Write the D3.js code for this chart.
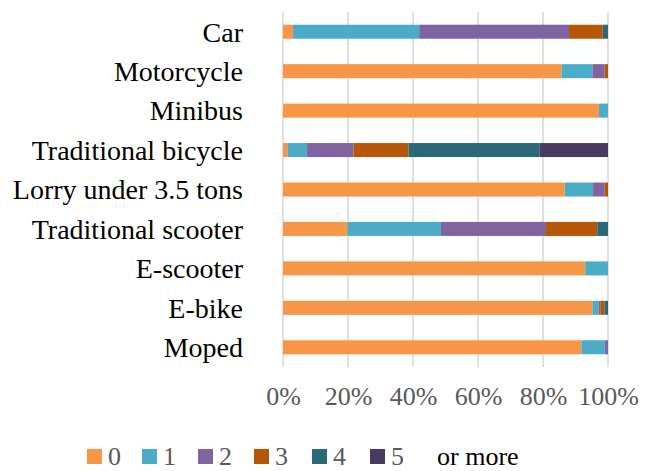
<!DOCTYPE html>
<html>
<head>
<meta charset="utf-8">
<script src="https://cdn.jsdelivr.net/npm/d3@7"></script>
<style>
  html, body { margin: 0; padding: 0; background: #fff; }
  svg { display: block; }
</style>
</head>
<body>
<svg id="chart" width="652" height="471"></svg>
<script>
// Vehicle types, top to bottom
const categories = [
  "Car", "Motorcycle", "Minibus", "Traditional bicycle",
  "Lorry under 3.5 tons", "Traditional scooter", "E-scooter", "E-bike", "Moped"
];
// Share of respondents (%) per number of vehicles owned
const series0 = [3.1, 85.7, 97.2, 1.5, 86.7, 19.8, 93.0, 95.2, 91.8];
const series1 = [38.8, 9.5, 2.8, 5.9, 8.7, 28.8, 7.0, 1.9, 7.2];
const series2 = [46.1, 3.8, 0, 14.3, 3.6, 32.3, 0, 0.5, 1.0];
const series3 = [10.4, 1.0, 0, 16.9, 1.0, 15.8, 0, 1.3, 0];
const series4 = [1.6, 0, 0, 40.4, 0, 3.3, 0, 1.1, 0];
const series5 = [0, 0, 0, 21.0, 0, 0, 0, 0, 0];
const seriesNames = ["0", "1", "2", "3", "4", "5"];
const tickValues = [0, 20, 40, 60, 80, 100];

const colors = ["#F79646", "#4BACC6", "#8064A2", "#B65708", "#2B6878", "#4A3A62"];
const serif = "'Liberation Serif', 'Times New Roman', serif";

const allSeries = [series0, series1, series2, series3, series4, series5];
const rows = categories.map((c, i) => {
  const r = { category: c };
  seriesNames.forEach((k, j) => { r[k] = allSeries[j][i]; });
  return r;
});

const svg = d3.select("#chart");
const x = d3.scaleLinear().domain([0, 100]).range([283, 608]);
const y = d3.scaleBand().domain(categories).range([12, 367])
  .paddingInner(0.645).paddingOuter(0.3225);

// vertical gridlines
svg.append("g")
  .selectAll("line")
  .data(tickValues)
  .join("line")
  .attr("x1", d => x(d)).attr("x2", d => x(d))
  .attr("y1", 12).attr("y2", 367)
  .attr("stroke", "#D9D9D9")
  .attr("stroke-width", 1.6);

// stacked bars
const stacked = d3.stack().keys(seriesNames)(rows);
svg.append("g")
  .selectAll("g")
  .data(stacked)
  .join("g")
  .attr("fill", (d, i) => colors[i])
  .selectAll("rect")
  .data(d => d)
  .join("rect")
  .attr("x", d => x(d[0]))
  .attr("width", d => Math.max(0, x(d[1]) - x(d[0])))
  .attr("y", d => y(d.data.category))
  .attr("height", y.bandwidth());

// category labels
const yAxis = svg.append("g")
  .attr("transform", "translate(283,0)")
  .call(d3.axisLeft(y).tickSize(0).tickPadding(40));
yAxis.attr("font-family", serif);
yAxis.select(".domain").remove();
yAxis.selectAll("text")
  .attr("font-family", serif)
  .attr("font-size", 28)
  .attr("fill", "#000")
  .attr("dy", "0.35em");

// percentage axis labels
const xAxis = svg.append("g")
  .attr("transform", "translate(0,367)")
  .call(d3.axisBottom(x).tickValues(tickValues).tickFormat(d => d + "%").tickSize(0).tickPadding(20));
xAxis.attr("font-family", serif);
xAxis.select(".domain").remove();
xAxis.selectAll("text")
  .attr("font-family", serif)
  .attr("font-size", 26)
  .attr("fill", "#595959");

// legend
const legendX = [87, 142, 198, 254, 312, 370];
const legend = svg.append("g");
seriesNames.forEach((name, i) => {
  const g = legend.append("g").attr("transform", `translate(${legendX[i]},0)`);
  g.append("rect")
    .attr("x", 0).attr("y", 449)
    .attr("width", 15).attr("height", 15)
    .attr("fill", colors[i]);
  g.append("text")
    .attr("x", 21).attr("y", 465)
    .attr("font-family", serif)
    .attr("font-size", 26)
    .attr("fill", "#595959")
    .text(name);
});
legend.append("text")
  .attr("x", 437).attr("y", 465)
  .attr("font-family", serif)
  .attr("font-size", 26)
  .attr("fill", "#000")
  .text("or more");
</script>
</body>
</html>
